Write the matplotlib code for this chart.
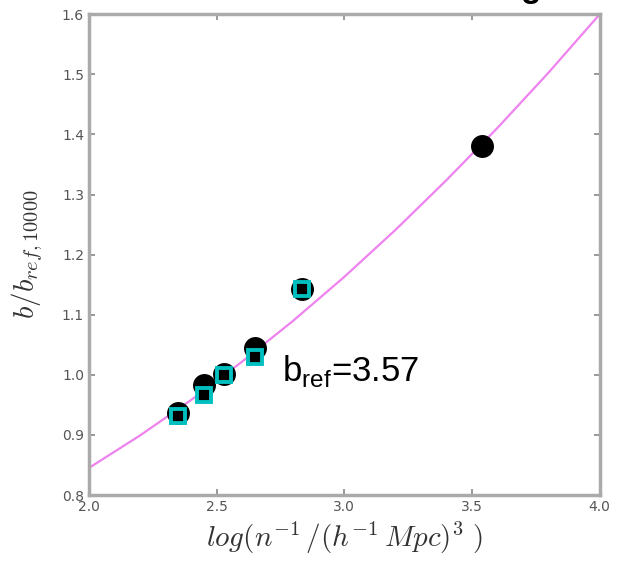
import matplotlib as mpl
mpl.use('Agg')
import matplotlib.pyplot as plt

# measured bias points (black circles)
x_circ = [2.35, 2.45, 2.53, 2.65, 2.835, 3.54]
y_circ = [0.937, 0.983, 1.002, 1.044, 1.143, 1.380]
# second sample (cyan squares)
x_sq = [2.35, 2.45, 2.53, 2.65, 2.835]
y_sq = [0.932, 0.966, 1.000, 1.030, 1.143]
# model curve
x_fit = [2.0, 2.2, 2.4, 2.6, 2.8, 3.0, 3.2, 3.4, 3.6, 3.8, 4.0]
y_fit = [0.845, 0.899, 0.958, 1.022, 1.090, 1.163, 1.241, 1.324, 1.411, 1.503, 1.600]

xticks = [2.0, 2.5, 3.0, 3.5, 4.0]
yticks = [0.8, 0.9, 1.0, 1.1, 1.2, 1.3, 1.4, 1.5, 1.6]

plt.rcParams['mathtext.fontset'] = 'cm'
plt.rcParams['mathtext.rm'] = 'Liberation Sans'

fig = plt.figure(figsize=(6.17, 5.69), dpi=100)
ax = fig.add_axes([0.144, 0.130, 0.828, 0.845])

ax.plot(x_fit, y_fit, color='violet', lw=1.6, zorder=1)
ax.plot(x_circ, y_circ, 'o', color='black', ms=15.5, zorder=2)
ax.plot(x_sq, y_sq, 's', mfc='black', mec='c', ms=10.5, mew=2.8, zorder=3)

ax.set_xlim(2.0, 4.0)
ax.set_ylim(0.8, 1.6)
ax.set_xticks(xticks)
ax.set_yticks(yticks)
ax.set_xticklabels(['%.1f' % v for v in xticks])
ax.set_yticklabels(['%.1f' % v for v in yticks])
ax.tick_params(top=True, right=True, direction='in', length=4, width=1.2,
               colors='#888888', labelcolor='#555555', labelsize=10)
for s in ax.spines.values():
    s.set_color('#aaaaaa')
    s.set_linewidth(2.5)

ax.set_xlabel(r'$log(n^{-1}\,/(h^{-1}\,Mpc)^3\ )$', fontsize=21, color='#333333', labelpad=4)
ax.set_ylabel(r'$b/b_{ref,10000}$', fontsize=21, color='#333333', labelpad=12)

ax.text(2.755, 0.99, r'b$_{\mathrm{ref}}$=3.57', fontsize=25, family='Liberation Sans',
        math_fontfamily='custom', color='black')

# clipped title remnant at the top edge
fig.text(0.843, 1.006, 'g', fontsize=24, fontweight='bold', family='Liberation Sans',
         ha='left', va='baseline')

fig.savefig('out.png', dpi=100)
